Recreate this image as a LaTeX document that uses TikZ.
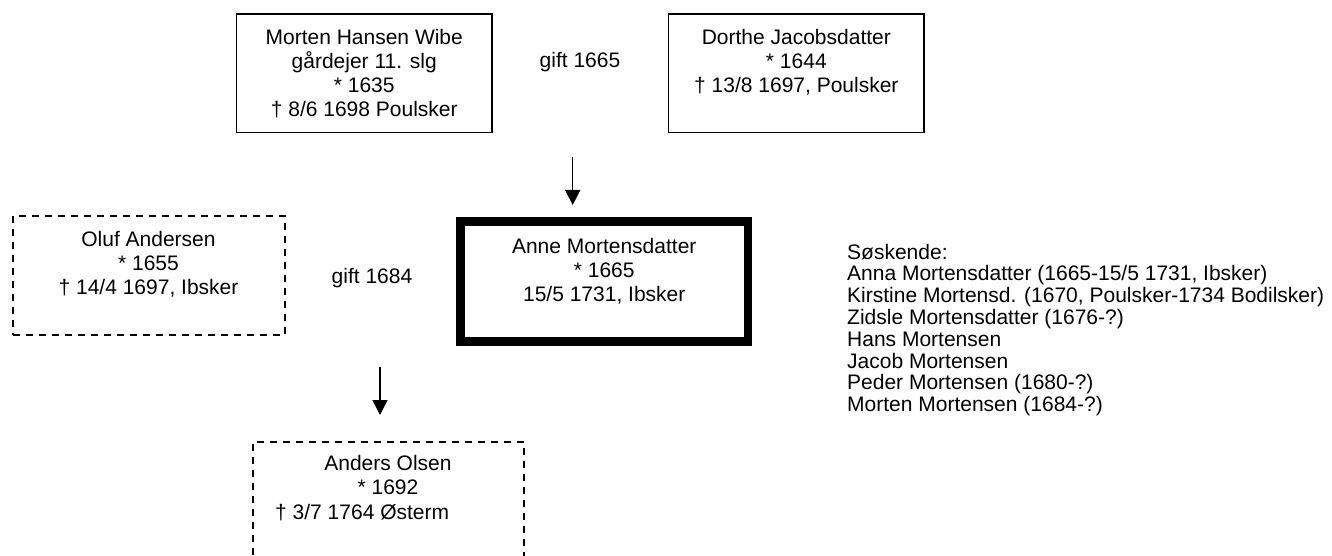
\documentclass[tikz,border=0pt]{standalone}
\usepackage{fontspec}
\setmainfont{Liberation Sans}
\usetikzlibrary{arrows.meta}
\tikzset{
  boxbase/.style={draw=black, rectangle, inner sep=0pt, outer sep=0pt},
  solidbox/.style={boxbase, line width=1.7pt},
  dashbox/.style={boxbase, line width=2pt, dash pattern=on 7pt off 6pt},
  thickbox/.style={boxbase, line width=8.5pt},
  boxtext/.style={inner sep=0pt, align=center, font=\fontsize{21}{24}\selectfont},
  plaintext/.style={inner sep=0pt, font=\fontsize{21}{24}\selectfont},
  sidetext/.style={inner sep=0pt, align=left, font=\fontsize{21}{21.8}\selectfont},
  descent/.style={line width=1.5pt, -{Triangle[length=15pt,width=15pt]}}
}
\begin{document}
\begin{tikzpicture}[x=1pt,y=-1pt]
\useasboundingbox (0,0) rectangle (1332,556);
% boxes
\node[solidbox, minimum width=255.5pt, minimum height=118.5pt] (morten) at (364.25,73.25) {};
\node[solidbox, minimum width=255.7pt, minimum height=118.5pt] (dorthe) at (796.35,73.25) {};
\node[thickbox, minimum width=287.5pt, minimum height=120pt] (anne) at (604.25,281.5) {};
\node[dashbox, minimum width=272pt, minimum height=119pt] (oluf) at (148.5,275.5) {};
\node[dashbox, minimum width=271pt, minimum height=119pt] (anders) at (388.5,501) {};
% texts
\node[boxtext, anchor=north] (mortenT) at (364.25,29.2) {Morten Hansen Wibe\\gårdejer 11. slg\\* 1635\\† 8/6 1698 Poulsker};
\node[boxtext, anchor=north] (dortheT) at (796.35,29.2) {Dorthe Jacobsdatter\\* 1644\\† 13/8 1697, Poulsker};
\node[boxtext, anchor=north] (anneT) at (604.25,238) {Anne Mortensdatter\\* 1665\\15/5 1731, Ibsker};
\node[boxtext, anchor=north] (olufT) at (148.5,230.7) {Oluf Andersen\\* 1655\\† 14/4 1697, Ibsker};
\node[boxtext, anchor=north] (andersT) at (388,454.7) {Anders Olsen\\* 1692};
\node[plaintext, anchor=base west] (andersD) at (275,519) {† 3/7 1764 Østerm};
\node[plaintext, anchor=base] (gift1) at (580,68) {gift 1665};
\node[plaintext, anchor=base] (gift2) at (372,283) {gift 1684};
\node[sidetext, anchor=north west] (siblings) at (847,243.7) {Søskende:\\Anna Mortensdatter (1665-15/5 1731, Ibsker)\\Kirstine Mortensd. (1670, Poulsker-1734 Bodilsker)\\Zidsle Mortensdatter (1676-?)\\Hans Mortensen\\Jacob Mortensen\\Peder Mortensen (1680-?)\\Morten Mortensen (1684-?)};
% arrows
\coordinate (a1s) at (572.7,157);
\coordinate (a1e) at (572.7,205);
\coordinate (a2s) at (380,367);
\coordinate (a2e) at (380,415);
\draw[descent] (a1s) -- (a1e);
\draw[descent] (a2s) -- (a2e);
\end{tikzpicture}
\end{document}
